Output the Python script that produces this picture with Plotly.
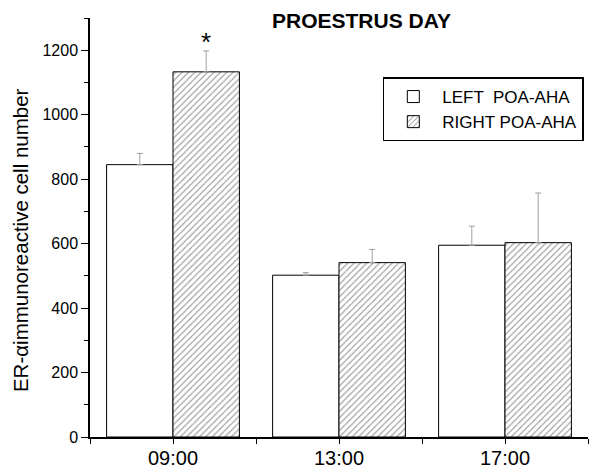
import plotly.graph_objects as go

categories = ["09:00", "13:00", "17:00"]
left_vals = [845, 502, 595]
left_err_top = [880, 510, 654]
right_vals = [1133, 541, 603]
right_err_top = [1198, 582, 757]
series_names = ["LEFT  POA-AHA", "RIGHT POA-AHA"]
y_ticks = [0, 200, 400, 600, 800, 1000, 1200]
title_text = "PROESTRUS DAY"
y_title = "ER-\u03b1immunoreactive cell number"

xpos = list(range(len(categories)))
FONT = "Liberation Sans, Arial, sans-serif"

fig = go.Figure()
fig.add_trace(go.Bar(
    x=xpos, y=left_vals, name=series_names[0],
    marker=dict(color="white", line=dict(color="black", width=1)),
    error_y=dict(type="data", symmetric=False,
                 array=[t - v for t, v in zip(left_err_top, left_vals)],
                 arrayminus=[0] * len(left_vals),
                 color="#a0a0a0", thickness=1, width=3),
))
fig.add_trace(go.Bar(
    x=xpos, y=right_vals, name=series_names[1],
    marker=dict(color="white", line=dict(color="black", width=1),
                pattern=dict(shape="/", fgcolor="#333333", bgcolor="white",
                             size=4.5, solidity=0.25)),
    error_y=dict(type="data", symmetric=False,
                 array=[t - v for t, v in zip(right_err_top, right_vals)],
                 arrayminus=[0] * len(right_vals),
                 color="#a0a0a0", thickness=1, width=3),
))

fig.add_annotation(x=0.2, y=1225, xref="x", yref="y", text="*", showarrow=False,
                   font=dict(family=FONT, size=26, color="black"), yanchor="middle")
fig.add_annotation(x=0.546, y=0.995, xref="paper", yref="paper", text="<b>" + title_text + "</b>",
                   showarrow=False, font=dict(family=FONT, size=21, color="black"),
                   xanchor="center", yanchor="middle")
fig.add_annotation(x=0, y=0.47, xref="paper", yref="paper", xshift=-70, text=y_title,
                   textangle=-90, showarrow=False, font=dict(family=FONT, size=20.5, color="black"),
                   xanchor="center", yanchor="middle")

fig.update_layout(
    width=590, height=471,
    margin=dict(l=90, r=2, t=18, b=34),
    paper_bgcolor="white", plot_bgcolor="white",
    barmode="group", bargap=0.2, bargroupgap=0,
    font=dict(family=FONT, color="black"),
    showlegend=True,
    legend=dict(x=0.588, y=0.858, xanchor="left", yanchor="top",
                bordercolor="black", borderwidth=1.5, bgcolor="white",
                font=dict(family=FONT, size=17, color="black"),
                tracegroupgap=0, itemwidth=48),
)
fig.update_xaxes(
    range=[-0.5, 2.5], tickmode="array", tickvals=xpos, ticktext=categories,
    showline=True, linecolor="black", linewidth=1.5,
    ticks="outside", ticklen=5, tickcolor="black", tickwidth=1,
    tickfont=dict(family=FONT, size=20, color="black"),
    ticklabelstandoff=-3,
    minor=dict(tick0=-0.5, dtick=1, ticks="outside", ticklen=5, tickcolor="black"),
    showgrid=False, zeroline=False,
)
fig.update_yaxes(
    range=[0, 1300], tickmode="array", tickvals=y_ticks,
    showline=True, linecolor="black", linewidth=1.5,
    ticks="outside", ticklen=7, tickcolor="black", tickwidth=1,
    tickfont=dict(family=FONT, size=16, color="black"),
    minor=dict(tick0=0, dtick=100, ticks="outside", ticklen=4, tickcolor="black"),
    showgrid=False, zeroline=False,
)

fig.write_html("out.html")
